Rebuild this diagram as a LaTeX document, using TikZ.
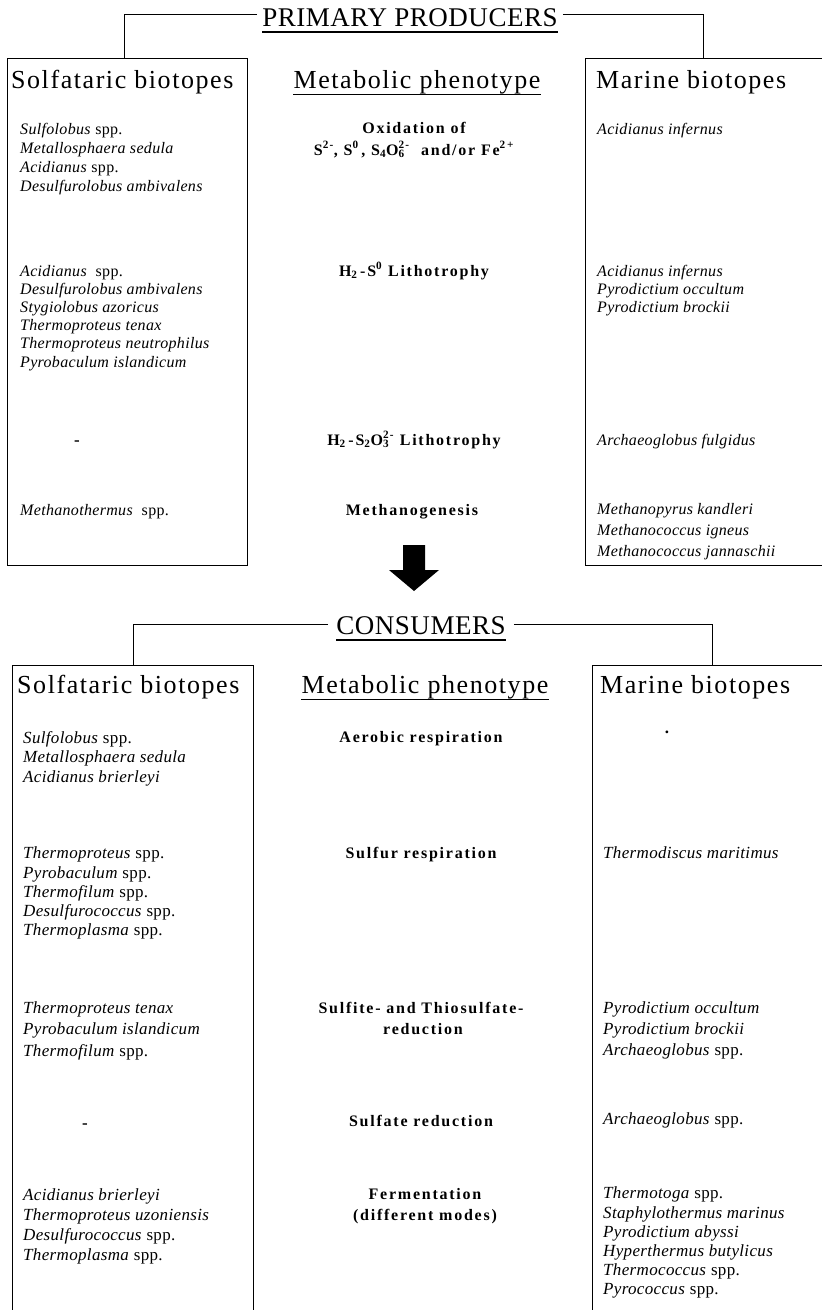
\documentclass[tikz,border=0pt]{standalone}
\usepackage{fontspec}
\setmainfont{Liberation Serif}
\newfontfamily\hdfont[LetterSpace=6]{Liberation Serif}
\newfontfamily\ttfont[LetterSpace=2]{Liberation Serif}
\newfontfamily\mdfont[LetterSpace=11]{Liberation Serif}
\newfontfamily\spfont[LetterSpace=2]{Liberation Serif}
\begin{document}
\begin{tikzpicture}[x=1pt,y=-1pt,
  sp/.style={font=\spfont\fontsize{16}{19}\selectfont, anchor=base west, inner sep=0pt},
  spb/.style={font=\spfont\fontsize{17}{20}\selectfont, anchor=base west, inner sep=0pt},
  mid/.style={font=\mdfont\bfseries\fontsize{16}{19}\selectfont, anchor=base, inner sep=0pt},
  hd/.style={font=\hdfont\fontsize{26}{30}\selectfont, anchor=base west, inner sep=0pt},
  hdc/.style={font=\hdfont\fontsize{26}{30}\selectfont, anchor=base, inner sep=0pt},
  ttl/.style={font=\ttfont\fontsize{27}{32}\selectfont, anchor=base, inner sep=0pt},
  nonemark/.style={font=\spfont\bfseries\fontsize{17}{19}\selectfont, anchor=base, inner sep=0pt},
  boxx/.style={draw, line width=0.9pt, anchor=north west, inner sep=0pt},
  conn/.style={line width=0.9pt},
  uline/.style={line width=0.8pt},
  tline/.style={line width=2.6pt}]
\useasboundingbox (0,0) rectangle (822,1310);

% ================= PRIMARY PRODUCERS =================
\node[ttl] (t1) at (410,26) {PRIMARY PRODUCERS};
\draw[tline] ([yshift=-6pt]t1.base west) -- ([yshift=-6pt]t1.base east);
\node[boxx, minimum width=240pt, minimum height=507pt] (lb1) at (7,58) {};
\node[boxx, minimum width=245pt, minimum height=507pt] (rb1) at (585,58) {};
\draw[conn] ([xshift=-5pt,yshift=3pt]t1.west) -| ([xshift=-3pt]lb1.north);
\draw[conn] ([xshift=5pt,yshift=3pt]t1.east) -| ([xshift=-4.5pt]rb1.north);

\node[hd] (h1l) at (11,88) {Solfataric biotopes};
\node[hdc] (h1m) at (417,88) {Metabolic phenotype};
\draw[uline] ([yshift=-6pt]h1m.base west) -- ([yshift=-6pt]h1m.base east);
\node[hd] (h1r) at (596,88) {Marine biotopes};

% left column
\node[sp] (a1) at (20,134) {\textit{Sulfolobus} spp.};
\node[sp] (a2) at (20,153) {\textit{Metallosphaera sedula}};
\node[sp] (a3) at (20,172) {\textit{Acidianus} spp.};
\node[sp] (a4) at (20,191) {\textit{Desulfurolobus ambivalens}};
\node[sp] (b1) at (20,276) {\textit{Acidianus}\ \ spp.};
\node[sp] (b2) at (20,294) {\textit{Desulfurolobus ambivalens}};
\node[sp] (b3) at (20,312) {\textit{Stygiolobus azoricus}};
\node[sp] (b4) at (20,330) {\textit{Thermoproteus tenax}};
\node[sp] (b5) at (20,348) {\textit{Thermoproteus neutrophilus}};
\node[sp] (b6) at (20,367) {\textit{Pyrobaculum islandicum}};
\node[nonemark] (c1) at (77,445) {-};
\node[sp] (d1) at (20,515) {\textit{Methanothermus}\ \ spp.};

% middle column
\node[mid] (m1) at (414,133) {Oxidation of};
\node[mid] (m2) at (414,155) {S\textsuperscript{2-}, S\textsuperscript{0}\,, S\textsubscript{4}O\rlap{\textsubscript{6}}\textsuperscript{2-}\ \ and/or Fe\textsuperscript{2\,+}};
\node[mid] (m3) at (414,276) {H\textsubscript{2}\,-S\textsuperscript{0} Lithotrophy};
\node[mid] (m4) at (414,445) {H\textsubscript{2}\,-S\textsubscript{2}O\rlap{\textsubscript{3}}\textsuperscript{2-} Lithotrophy};
\node[mid] (m5) at (412,515) {Methanogenesis};

% right column
\node[sp] (r1) at (597,134) {\textit{Acidianus infernus}};
\node[sp] (r2) at (597,276) {\textit{Acidianus infernus}};
\node[sp] (r3) at (597,294) {\textit{Pyrodictium occultum}};
\node[sp] (r4) at (597,312) {\textit{Pyrodictium brockii}};
\node[sp] (r5) at (597,445) {\textit{Archaeoglobus fulgidus}};
\node[sp] (r6) at (597,514) {\textit{Methanopyrus kandleri}};
\node[sp] (r7) at (597,535) {\textit{Methanococcus igneus}};
\node[sp] (r8) at (597,556) {\textit{Methanococcus jannaschii}};

% ================= arrow =================
\fill (403,545) -- (425,545) -- (425,570) -- (439,570) -- (414,591) -- (389,570) -- (403,570) -- cycle;

% ================= CONSUMERS =================
\node[ttl] (t2) at (421,634) {CONSUMERS};
\draw[tline] ([yshift=-6pt]t2.base west) -- ([yshift=-6pt]t2.base east);
\node[boxx, minimum width=241pt, minimum height=660pt] (lb2) at (12,665) {};
\node[boxx, minimum width=240pt, minimum height=660pt] (rb2) at (592,665) {};
\draw[conn] ([xshift=-8pt,yshift=1pt]t2.west) -| (lb2.north);
\draw[conn] ([xshift=8pt,yshift=1pt]t2.east) -| (rb2.north);

\node[hd] (h2l) at (17,693) {Solfataric biotopes};
\node[hdc] (h2m) at (425,693) {Metabolic phenotype};
\draw[uline] ([yshift=-6pt]h2m.base west) -- ([yshift=-6pt]h2m.base east);
\node[hd] (h2r) at (600,693) {Marine biotopes};

% left column
\node[spb] (e1) at (23,743) {\textit{Sulfolobus} spp.};
\node[spb] (e2) at (23,762) {\textit{Metallosphaera sedula}};
\node[spb] (e3) at (23,782) {\textit{Acidianus brierleyi}};
\node[spb] (f1) at (23,858) {\textit{Thermoproteus} spp.};
\node[spb] (f2) at (23,878) {\textit{Pyrobaculum} spp.};
\node[spb] (f3) at (23,897) {\textit{Thermofilum} spp.};
\node[spb] (f4) at (23,916) {\textit{Desulfurococcus} spp.};
\node[spb] (f5) at (23,935) {\textit{Thermoplasma} spp.};
\node[spb] (g1) at (23,1013) {\textit{Thermoproteus tenax}};
\node[spb] (g2) at (23,1034) {\textit{Pyrobaculum islandicum}};
\node[spb] (g3) at (23,1056) {\textit{Thermofilum} spp.};
\node[nonemark] (k1) at (85,1128) {-};
\node[spb] (n1) at (23,1200) {\textit{Acidianus brierleyi}};
\node[spb] (n2) at (23,1220) {\textit{Thermoproteus uzoniensis}};
\node[spb] (n3) at (23,1240) {\textit{Desulfurococcus} spp.};
\node[spb] (n4) at (23,1260) {\textit{Thermoplasma} spp.};

% middle column
\node[mid] (p1) at (421,742) {Aerobic respiration};
\node[mid] (p2) at (421,858) {Sulfur respiration};
\node[mid] (p3) at (421,1013) {Sulfite- and Thiosulfate-};
\node[mid] (p4) at (423,1034) {reduction};
\node[mid] (p5) at (421,1126) {Sulfate reduction};
\node[mid] (p6) at (425,1199) {Fermentation};
\node[mid] (p7) at (425,1220) {(different modes)};

% right column
\node[nonemark] (s0) at (667,733) {.};
\node[spb] (s1) at (603,858) {\textit{Thermodiscus maritimus}};
\node[spb] (s2) at (603,1013) {\textit{Pyrodictium occultum}};
\node[spb] (s3) at (603,1034) {\textit{Pyrodictium brockii}};
\node[spb] (s4) at (603,1055) {\textit{Archaeoglobus} spp.};
\node[spb] (s5) at (603,1124) {\textit{Archaeoglobus} spp.};
\node[spb] (s6) at (603,1198) {\textit{Thermotoga} spp.};
\node[spb] (s7) at (603,1218) {\textit{Staphylothermus marinus}};
\node[spb] (s8) at (603,1237) {\textit{Pyrodictium abyssi}};
\node[spb] (s9) at (603,1256) {\textit{Hyperthermus butylicus}};
\node[spb] (s10) at (603,1275) {\textit{Thermococcus} spp.};
\node[spb] (s11) at (603,1294) {\textit{Pyrococcus} spp.};
\end{tikzpicture}
\end{document}
